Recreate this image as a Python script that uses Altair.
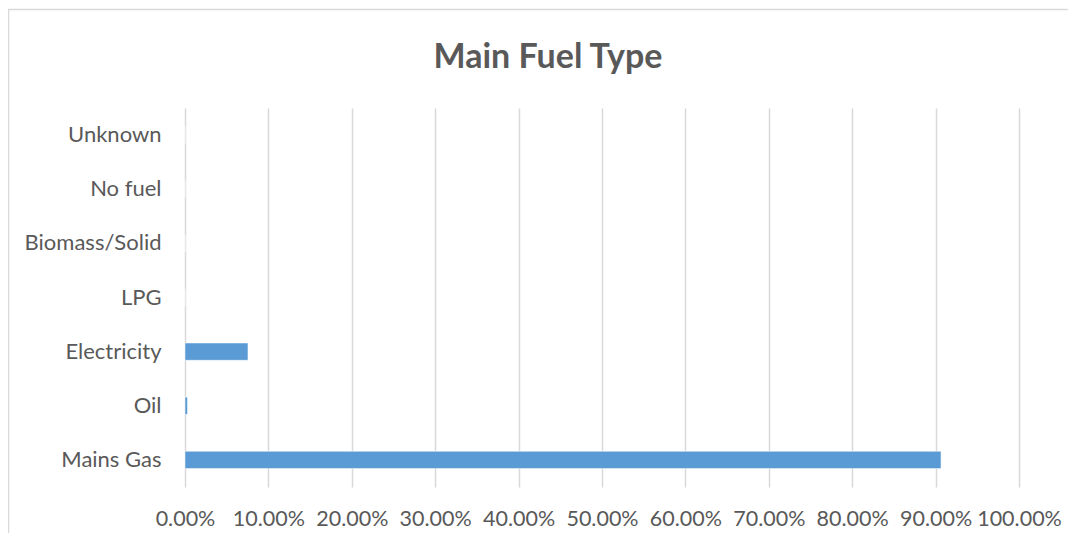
import altair as alt
import pandas as pd

categories = ["Unknown", "No fuel", "Biomass/Solid", "LPG", "Electricity", "Oil", "Mains Gas"]
shares = [0.0, 0.0, 0.0, 0.0, 0.0755, 0.003, 0.9065]

df = pd.DataFrame({"fuel": categories, "share": shares})

FONT = "Lato"
TXT = "#595959"
GRID = "#d9d9d9"

bars = alt.Chart(df).mark_bar(color="#5b9bd5", stroke="#ffffff", strokeWidth=0.5).encode(
    x=alt.X("share:Q",
            scale=alt.Scale(domain=[0, 1], nice=False),
            axis=alt.Axis(format=".2%", values=[i / 10 for i in range(11)],
                          title=None, ticks=False, domain=False,
                          grid=True, gridColor=GRID, gridWidth=1.5,
                          labelFont=FONT, labelFontSize=21.5, labelColor=TXT,
                          labelPadding=21, labelFlush=False)),
    y=alt.Y("fuel:N", sort=categories,
            scale=alt.Scale(paddingInner=0.68, paddingOuter=0.34),
            axis=alt.Axis(title=None, ticks=False, domain=False, grid=False,
                          labelFont=FONT, labelFontSize=22, labelColor=TXT,
                          labelPadding=24)),
)

border = alt.Chart(pd.DataFrame({"a": [0]})).mark_rect(
    fill=None, stroke=GRID, strokeWidth=1.5, clip=False
).encode(
    x=alt.value(-176.5), x2=alt.value(902), y=alt.value(-98.5), y2=alt.value(450)
)

chart = alt.layer(border, bars).properties(
    width=834, height=379,
    title=alt.TitleParams("Main Fuel Type", font=FONT, fontSize=34, fontWeight="bold",
                          color=TXT, anchor="middle", offset=-66, dx=-54),
    autosize=alt.AutoSizeParams(type="none"),
    padding={"left": 177, "top": 100, "right": 49, "bottom": 46},
).configure_view(stroke=None)

chart.save("out.html", embed_options={"renderer": "svg", "actions": False})
